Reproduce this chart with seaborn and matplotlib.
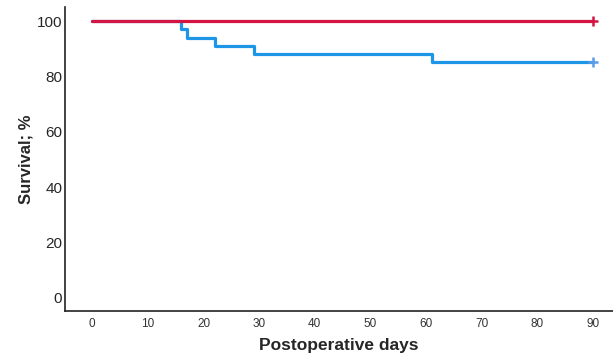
import pandas as pd
import matplotlib
matplotlib.use("Agg")
import matplotlib.pyplot as plt
import seaborn as sns

# Kaplan-Meier step data
red_days = [0, 90]
red_surv = [100.0, 100.0]

blue_days = [0, 16, 17, 22, 29, 61, 90]
blue_surv = [100.0, 97.06, 94.12, 91.18, 88.24, 85.29, 85.29]

xticks = [0, 10, 20, 30, 40, 50, 60, 70, 80, 90]
yticks = [0, 20, 40, 60, 80, 100]

RED = "#D41442"
BLUE = "#1E96E8"

sns.set_style("white")
plt.rcParams['font.family'] = ['Liberation Sans', 'DejaVu Sans']

fig = plt.figure(figsize=(6.13, 3.54), dpi=100)
ax = fig.add_axes([0.106, 0.1215, 0.894, 0.859])

df_red = pd.DataFrame({"day": red_days, "surv": red_surv})
df_blue = pd.DataFrame({"day": blue_days, "surv": blue_surv})

sns.lineplot(data=df_blue, x="day", y="surv", ax=ax, color=BLUE,
             linewidth=2.3, drawstyle="steps-post", estimator=None)
sns.lineplot(data=df_red, x="day", y="surv", ax=ax, color=RED,
             linewidth=2.3, drawstyle="steps-post", estimator=None)

# censor marks at the end of follow-up
ax.plot(blue_days[-1], blue_surv[-1], marker="+", color="#5a9be8",
        markersize=7, markeredgewidth=1.8)
ax.plot(red_days[-1], red_surv[-1], marker="+", color=RED,
        markersize=7, markeredgewidth=1.8)

ax.set_xlim(-4.9, 93.6)
ax.set_ylim(-4.7, 105.2)
ax.set_xticks(xticks)
ax.set_yticks(yticks)
ax.tick_params(axis="x", labelsize=8.5, length=0, pad=5, colors="#333333")
ax.tick_params(axis="y", labelsize=11, length=0, pad=2)

sns.despine(ax=ax)
ax.spines["left"].set_color("#222222")
ax.spines["bottom"].set_color("#222222")
ax.spines["left"].set_linewidth(1.2)
ax.spines["bottom"].set_linewidth(1.2)

ax.set_xlabel("Postoperative days", fontsize=12.5, fontweight="bold", labelpad=6)
ax.set_ylabel("Survival; %", fontsize=12, fontweight="bold", labelpad=2)

fig.savefig("out.png", dpi=100)
